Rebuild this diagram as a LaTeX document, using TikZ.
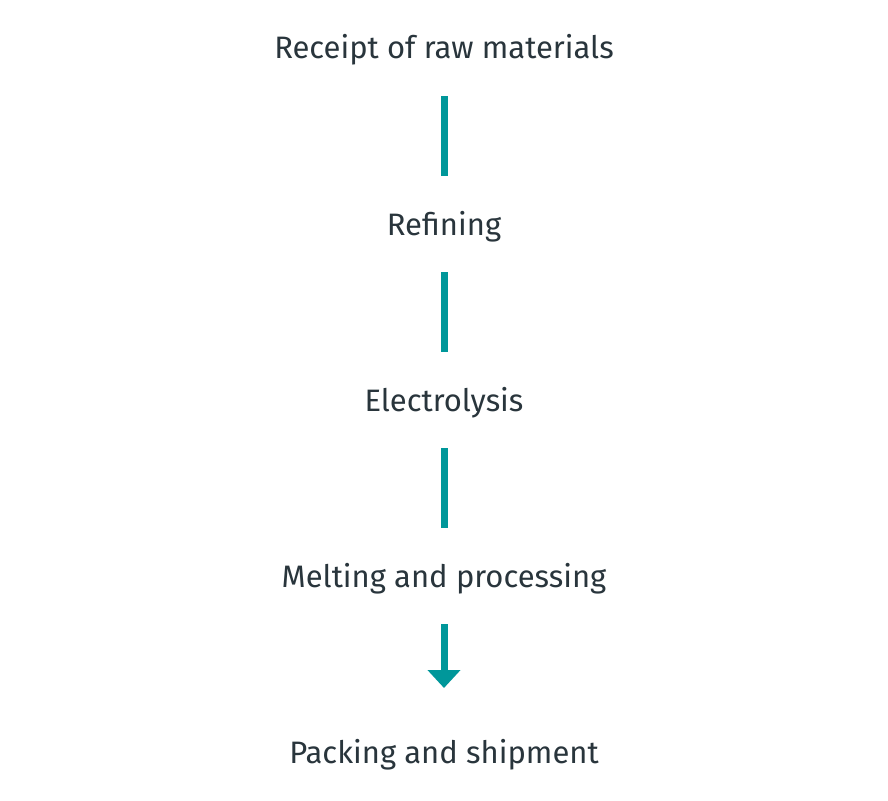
\documentclass[tikz,border=0pt]{standalone}
\usepackage{fontspec}
\setmainfont{Fira Sans}
\usetikzlibrary{arrows.meta}
\definecolor{txt}{HTML}{29353C}
\definecolor{teal}{HTML}{00979A}
\begin{document}
\begin{tikzpicture}[x=1pt,y=-1pt,
  stage/.style={text=txt,font=\fontsize{31}{36}\selectfont,inner sep=0pt,anchor=center},
  link/.style={draw=teal,line width=7pt},
]
\useasboundingbox[fill=white] (0,0) rectangle (888,800);
\node[stage] (a) at (444,50) {Receipt of raw materials};
\node[stage] (b) at (444,227) {Refining};
\node[stage] (c) at (444,403) {Electrolysis};
\node[stage] (d) at (444,579) {Melting and processing};
\node[stage] (e) at (444,755) {Packing and shipment};
\draw[link] ([yshift=-46pt]a.center) -- ([yshift=51pt]b.center);
\draw[link] ([yshift=-45pt]b.center) -- ([yshift=51pt]c.center);
\draw[link] ([yshift=-45pt]c.center) -- ([yshift=51pt]d.center);
\draw[link,-{Triangle[width=32pt,length=18pt]}] ([yshift=-45pt]d.center) -- ([yshift=67pt]e.center);
\end{tikzpicture}
\end{document}
